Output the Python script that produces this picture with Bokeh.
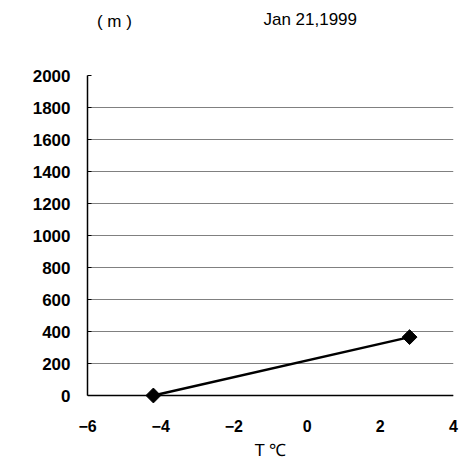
import math
from bokeh.plotting import figure
from bokeh.layouts import column
from bokeh.models import Range1d, FixedTicker, Span
from bokeh.core.properties import value
from bokeh.embed import file_html
from bokeh.resources import INLINE

temps = [-4.2, 2.8]
heights = [0, 365]
x_ticks = [-6, -4, -2, 0, 2, 4]
y_ticks = [0, 200, 400, 600, 800, 1000, 1200, 1400, 1600, 1800, 2000]
title_text = "Jan 21,1999"
unit_text = "( m )"
x_label = "T ℃"

FONT = "Liberation Sans"
TOP_H = 40

# header strip holding the unit label and the date title
head = figure(width=470, height=TOP_H, output_backend="svg", toolbar_location=None,
              x_range=Range1d(0, 470), y_range=Range1d(TOP_H, 0),
              min_border=0, min_border_left=0, min_border_right=0,
              min_border_top=0, min_border_bottom=0)
head.axis.visible = False
head.grid.visible = False
head.outline_line_color = None
head.text(x=[286], y=[19], text=[title_text], text_font=value(FONT),
          text_font_size="17px", text_align="center", text_baseline="middle",
          text_color="black")
head.text(x=[34.5], y=[21], text=[unit_text], text_font=value(FONT),
          text_font_size="17px", text_align="center", text_baseline="middle",
          text_color="black")

# frame extends slightly below 0 so the bottom marker is not clipped
p = figure(width=470, height=464 - TOP_H, output_backend="svg", toolbar_location=None,
           x_range=Range1d(-6, 4), y_range=Range1d(-50, 2000),
           min_border_left=87, min_border_right=17, min_border_top=75 - TOP_H,
           min_border_bottom=61)
p.outline_line_color = None
p.background_fill_color = "white"
p.border_fill_color = "white"

p.xgrid.visible = False
p.ygrid.ticker = FixedTicker(ticks=y_ticks)
p.ygrid.grid_line_color = "#808080"
p.ygrid.grid_line_width = 1

# base line at height 0
p.add_layout(Span(location=0, dimension="width", line_color="black", line_width=1.5))

xa = p.xaxis[0]
xa.ticker = FixedTicker(ticks=x_ticks)
xa.axis_line_color = None
xa.major_tick_line_color = None
xa.minor_tick_line_color = None
xa.major_label_text_font = FONT
xa.major_label_text_font_style = "bold"
xa.major_label_text_font_size = "16px"
xa.major_label_text_color = "black"
xa.major_label_standoff = 10
xa.major_label_overrides = {t: str(t).replace("-", "−") for t in x_ticks}
xa.axis_label = x_label
xa.axis_label_text_font = FONT
xa.axis_label_text_font_size = "17px"
xa.axis_label_text_font_style = "normal"
xa.axis_label_text_color = "black"
xa.axis_label_standoff = 6

ya = p.yaxis[0]
ya.bounds = (0, 2000)
ya.ticker = FixedTicker(ticks=y_ticks)
ya.axis_line_color = "black"
ya.axis_line_width = 1.5
ya.major_tick_in = 4
ya.major_tick_out = 0
ya.minor_tick_in = 0
ya.minor_tick_out = 0
ya.major_tick_line_color = "black"
ya.major_label_text_font = FONT
ya.major_label_text_font_style = "bold"
ya.major_label_text_font_size = "17px"
ya.major_label_text_color = "black"
ya.major_label_standoff = 17

p.line(temps, heights, line_color="black", line_width=2.5)
p.scatter(temps, heights, marker="square", angle=math.pi / 4, size=10.5,
          fill_color="black", line_color="black")

layout = column(head, p, spacing=0)
open("out.html", "w").write(file_html(layout, INLINE))
